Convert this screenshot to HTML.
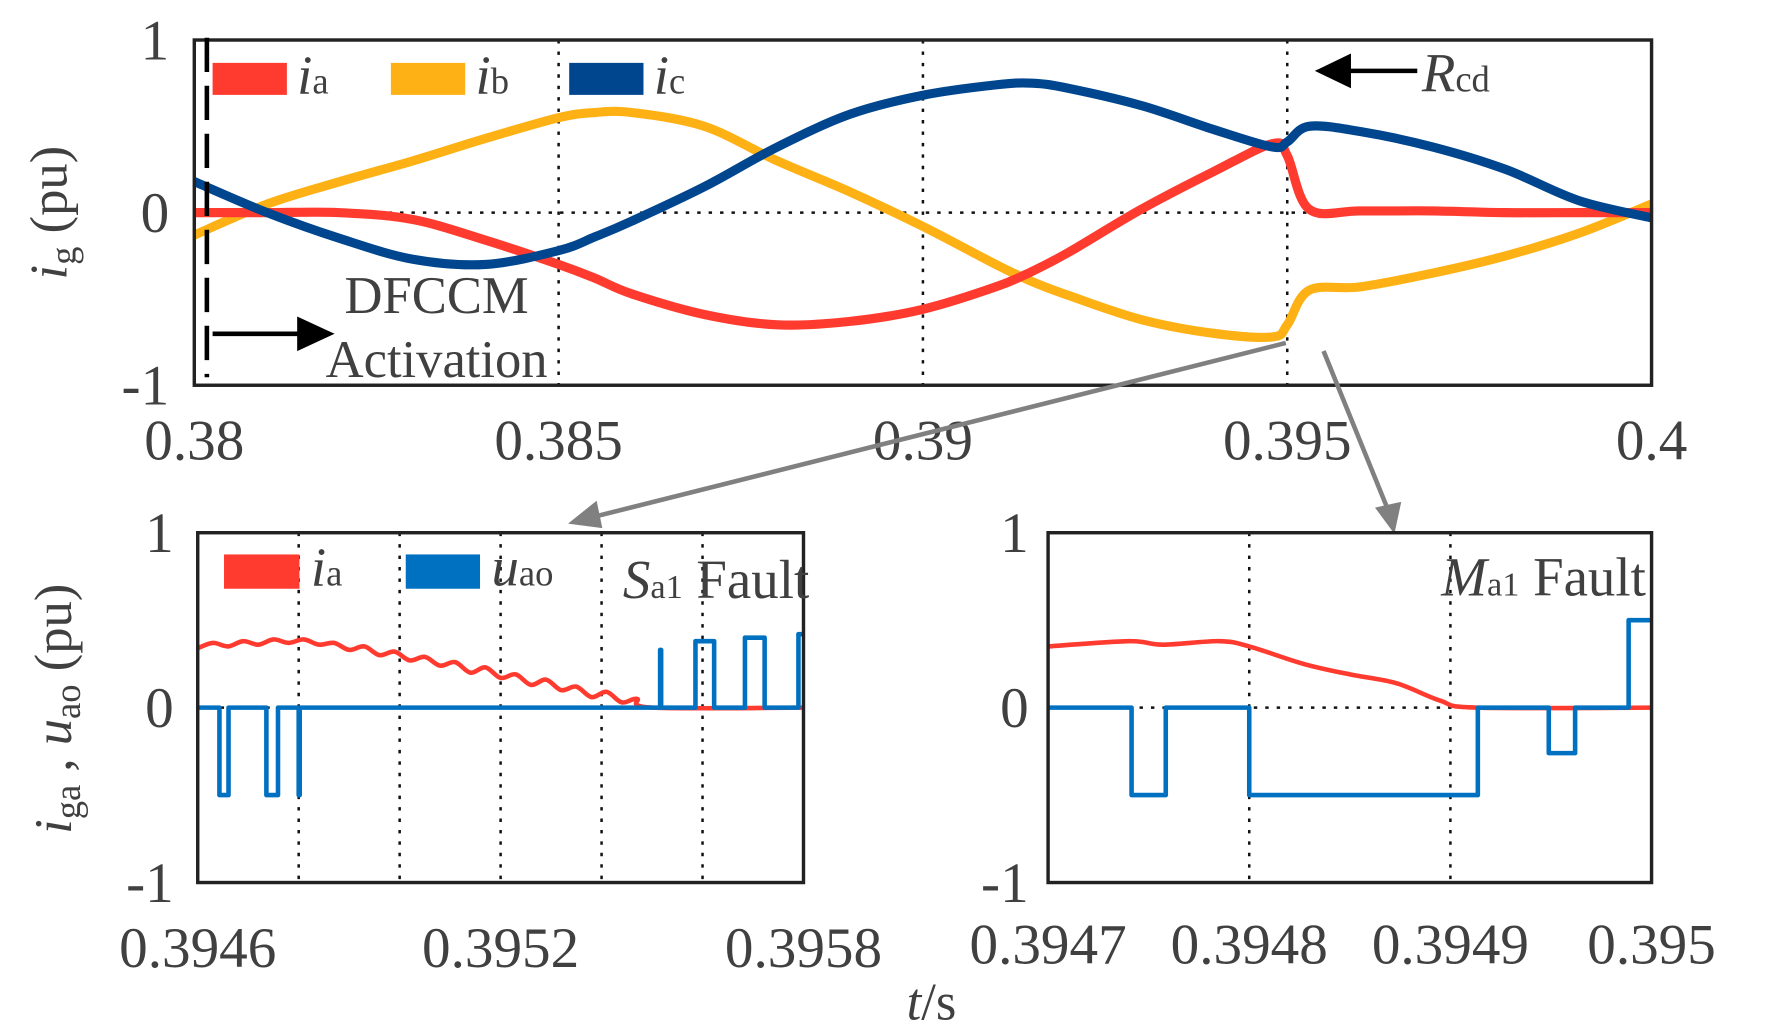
<!DOCTYPE html>
<html><head><meta charset="utf-8"><style>
html,body{margin:0;padding:0;background:#fff;}
svg{display:block;}
text{font-family:"Liberation Serif",serif;fill:#404040;}
</style></head><body>
<svg id="fig" width="1783" height="1030" viewBox="0 0 1560 901" preserveAspectRatio="none">
</svg>
<script>
// ---- Top chart data ----
const topT = [0.38,0.381,0.382,0.383,0.384,0.385,0.3855,0.386,0.387,0.388,0.389,0.390,0.391,0.3915,0.392,0.393,0.394,0.3948,0.3950,0.3953,0.396,0.397,0.398,0.399,0.4];
const iaTop = [0,0,0,-0.04,-0.16,-0.3,-0.38,-0.47,-0.59,-0.65,-0.63,-0.56,-0.43,-0.34,-0.23,0.02,0.24,0.4,0.33,0.02,0.01,0.01,0,0,0];
const ibTop = [-0.13,0.05,0.18,0.3,0.43,0.55,0.58,0.58,0.5,0.3,0.12,-0.08,-0.3,-0.4,-0.48,-0.62,-0.7,-0.72,-0.65,-0.45,-0.43,-0.35,-0.25,-0.12,0.05];
const icTop = [0.18,0.0,-0.15,-0.27,-0.3,-0.22,-0.14,-0.05,0.15,0.38,0.57,0.68,0.74,0.75,0.72,0.62,0.48,0.38,0.41,0.5,0.47,0.38,0.25,0.07,-0.03];
const topXTicks = [0.38,0.385,0.39,0.395,0.4];
const topXLabels = ["0.38","0.385","0.39","0.395","0.4"];
const yTicks = [1,0,-1];
const yLabels = ["1","0","-1"];
// ---- Bottom-left data ----
const blT = [0.3946,0.39463,0.39466,0.39469,0.39472,0.39475,0.39478,0.39481,0.39484,0.39487,0.3949,0.39493,0.39496,0.39499,0.39502,0.39505,0.39508,0.39511,0.39514,0.39517,0.3952,0.39523,0.39526,0.39529,0.39532,0.39535,0.39538,0.39541,0.39544,0.39547,0.3955,0.3958];
const blIa = [0.34,0.37,0.35,0.38,0.36,0.39,0.37,0.39,0.36,0.37,0.33,0.35,0.3,0.32,0.27,0.29,0.24,0.26,0.2,0.23,0.17,0.19,0.13,0.16,0.1,0.12,0.06,0.09,0.03,0.05,0.0,0.0];
const blStepT = [0.3946,0.394643,0.394661,0.394736,0.394759,0.3948,0.394802,0.395516,0.395518,0.395586,0.395623,0.395684,0.395723,0.39579,0.3958];
const blStepV = [0,-0.5,0,-0.5,0,-0.5,0,0.33,0,0.38,0,0.4,0,0.42,0.42];
const blXTicks = [0.3946,0.3952,0.3958];
const blXLabels = ["0.3946","0.3952","0.3958"];
const blGrid = [0.3948,0.3950,0.3952,0.3954,0.3956];
// ---- Bottom-right data ----
const brT = [0.3947,0.39474,0.394757,0.394785,0.3948,0.394827,0.39485,0.394873,0.394895,0.394913,0.3950];
const brIa = [0.35,0.38,0.36,0.38,0.35,0.25,0.19,0.14,0.04,0,0];
const brStepT = [0.3947,0.3947415,0.3947585,0.3948,0.39491364,0.3949489,0.394962,0.3949886,0.3950];
const brStepV = [0,-0.5,0,-0.5,0,-0.26,0,0.5,0.5];
const brXTicks = [0.3947,0.3948,0.3949,0.3950];
const brXLabels = ["0.3947","0.3948","0.3949","0.395"];

const NS="http://www.w3.org/2000/svg";
const svg=document.getElementById('fig');
function mk(tag,attrs,parent){const e=document.createElementNS(NS,tag);for(const k in attrs)e.setAttribute(k,attrs[k]);(parent||svg).appendChild(e);return e;}
function scale(d0,d1,r0,r1){return v=>r0+(v-d0)/(d1-d0)*(r1-r0);}

function panel(name,box,xd,yTop,yBot){
  const g=mk('g',{});
  
  
  const x=scale(xd[0],xd[1],box.x0,box.x1), y=scale(-1,1,yBot,yTop);
  return {g,x,y};
}
function line(p,ts,vs,color,w,name,step){
  let d='';
  const pts=ts.map((t,i)=>[p.x(t),p.y(vs[i])]);
  if(step){
    pts.forEach((q,i)=>{ if(i>0) d+='L'+q[0]+','+pts[i-1][1]; d+=(i?'L':'M')+q[0]+','+q[1]; });
  } else {
    d='M'+pts[0][0]+','+pts[0][1];
    for(let i=0;i<pts.length-1;i++){
      const p0=pts[Math.max(0,i-1)],p1=pts[i],p2=pts[i+1],p3=pts[Math.min(pts.length-1,i+2)];
      const c1=[p1[0]+(p2[0]-p0[0])/6,p1[1]+(p2[1]-p0[1])/6];
      const c2=[p2[0]-(p3[0]-p1[0])/6,p2[1]-(p3[1]-p1[1])/6];
      d+='C'+c1[0]+','+c1[1]+' '+c2[0]+','+c2[1]+' '+p2[0]+','+p2[1];
    }
  }
  const e=mk('path',{d:d,fill:'none',stroke:color,'stroke-width':w,'stroke-linejoin':'round'},p.g);
  
  
}
function frame(p,box,yTop,yBot){
  const r=mk('rect',{x:box.x0,y:yTop,width:box.x1-box.x0,height:yBot-yTop,fill:'none',stroke:'#222','stroke-width':3},p.g);
  
  
}
function vgrid(p,vals,yTop,yBot){
  vals.forEach(v=>{const l=mk('line',{x1:p.x(v),x2:p.x(v),y1:yTop,y2:yBot,stroke:'#111','stroke-width':2.2,'stroke-dasharray':'3,7'},p.g);
  
  });
}
function hgrid(p,x0,x1){
  const l=mk('line',{x1:x0,x2:x1,y1:p.y(0),y2:p.y(0),stroke:'#111','stroke-width':2.2,'stroke-dasharray':'3,7'},p.g);
  
  
}
function txt(s,x,y,size,anchor,parent,name,style){
  const e=mk('text',{x:x,y:y,'font-size':size,'text-anchor':anchor||'middle'},parent);
  if(style)e.setAttribute('style',style);
  e.innerHTML=s;
  
  
  return e;
}
function yticks(p,xr){
  yTicks.forEach((v,i)=>txt(yLabels[i],xr,p.y(v)+17,50,'end',p.g,'y-tick-label'));
}
function xticks(p,ticks,labels,ty){
  ticks.forEach((v,i)=>txt(labels[i],p.x(v),ty,50,'middle',p.g,'x-tick-label'));
}

// ---- Top panel ----
const tb={x0:170,x1:1445}, tTop=35, tBot=337;
const P1=panel('top-chart',tb,[0.38,0.4],tTop,tBot);
vgrid(P1,[0.385,0.39,0.395],tTop,tBot); hgrid(P1,tb.x0,tb.x1);
line(P1,topT,ibTop,'#FDB114',8,'series-ib');
line(P1,topT,iaTop,'#FF3B30',8,'series-ia');
line(P1,topT,icTop,'#00468F',8,'series-ic');
frame(P1,tb,tTop,tBot);
yticks(P1,148);
xticks(P1,topXTicks,topXLabels,402);
const dl=mk('line',{x1:181,x2:181,y1:33,y2:330,stroke:'#000','stroke-width':4,'stroke-dasharray':'30,12'},P1.g);


[['#FF3B30','a',186],['#FDB114','b',342],['#00468F','c',498]].forEach(([c,s,x])=>{
  const r=mk('rect',{x:x,y:55,width:65,height:28,fill:c},P1.g);
  
  
  txt('<tspan font-style="italic">i</tspan><tspan font-size="32">'+s+'</tspan>',x+74,82,48,'start',P1.g,'legend-label-i'+s);
});
const ar1=mk('path',{d:'M1240,62 L1175,62 M1155,62 L1180,50 L1180,74 Z',stroke:'#000','stroke-width':4,fill:'#000'},P1.g);


txt('<tspan font-style="italic">R</tspan><tspan font-size="32">cd</tspan>',1244,80,48,'start',P1.g,'rcd-label');
txt('DFCCM',382,274,46,'middle',P1.g,'dfccm-label');
txt('Activation',382,330,46,'middle',P1.g,'activation-label');
const ar2=mk('path',{d:'M186,292 L262,292 M288,292 L262,280 L262,304 Z',stroke:'#000','stroke-width':4,fill:'#000'},P1.g);


const yl1=txt('<tspan font-style="italic">i</tspan><tspan font-size="32" dy="8">g</tspan><tspan dy="-8"> (pu)</tspan>',0,0,46,'middle',svg,'top-y-axis-title');
yl1.setAttribute('transform','translate(58,186) rotate(-90)');

const ga=mk('g',{});


mk('path',{d:'M1125,300 L520,452',stroke:'#808080','stroke-width':4,fill:'none'},ga);
mk('path',{d:'M497,458 L522,438 L527,462 Z',fill:'#808080'},ga);
mk('path',{d:'M1158,307 L1214,445',stroke:'#808080','stroke-width':4,fill:'none'},ga);
mk('path',{d:'M1220,467 L1203,444 L1226,439 Z',fill:'#808080'},ga);

// ---- Bottom-left ----
const bb1={x0:173,x1:703}, bTop=466, bBot=772;
const P2=panel('bottom-left-chart',bb1,[0.3946,0.3958],bTop,bBot);
vgrid(P2,blGrid,bTop,bBot); hgrid(P2,bb1.x0,bb1.x1);
line(P2,blT,blIa,'#FF3B30',4,'series-ia-zoom1');
line(P2,blStepT,blStepV,'#0070C0',4,'series-uao-zoom1',true);
frame(P2,bb1,bTop,bBot);
yticks(P2,152);
xticks(P2,blXTicks,blXLabels,846);
const s1=mk('rect',{x:196,y:485,width:66,height:30,fill:'#FF3B30'},P2.g);


txt('<tspan font-style="italic">i</tspan><tspan font-size="32">a</tspan>',272,512,48,'start',P2.g,'legend-label-ia');
const s2=mk('rect',{x:355,y:485,width:65,height:30,fill:'#0070C0'},P2.g);


txt('<tspan font-style="italic">u</tspan><tspan font-size="32">ao</tspan>',430,512,48,'start',P2.g,'legend-label-uao');
txt('<tspan font-style="italic">S</tspan><tspan font-size="30">a1</tspan> Fault',708,523,48,'end',P2.g,'sa1-fault-label');

// ---- Bottom-right ----
const bb2={x0:917,x1:1445};
const P3=panel('bottom-right-chart',bb2,[0.3947,0.3950],bTop,bBot);
vgrid(P3,[0.3948,0.3949],bTop,bBot); hgrid(P3,bb2.x0,bb2.x1);
line(P3,brT,brIa,'#FF3B30',4,'series-ia-zoom2');
line(P3,brStepT,brStepV,'#0070C0',4,'series-uao-zoom2',true);
frame(P3,bb2,bTop,bBot);
yticks(P3,900);
xticks(P3,brXTicks,brXLabels,843);
txt('<tspan font-style="italic">M</tspan><tspan font-size="30">a1</tspan> Fault',1440,521,48,'end',P3.g,'ma1-fault-label');

const yl2=txt('<tspan font-style="italic">i</tspan><tspan font-size="32" dy="8">ga</tspan><tspan dy="-8"> , </tspan><tspan font-style="italic">u</tspan><tspan font-size="32" dy="8">ao</tspan><tspan dy="-8"> (pu)</tspan>',0,0,46,'middle',svg,'bottom-y-axis-title');
yl2.setAttribute('transform','translate(62,620) rotate(-90)');
txt('<tspan font-style="italic">t</tspan>/s',815,892,46,'middle',svg,'x-axis-title');
</script>
</body></html>
